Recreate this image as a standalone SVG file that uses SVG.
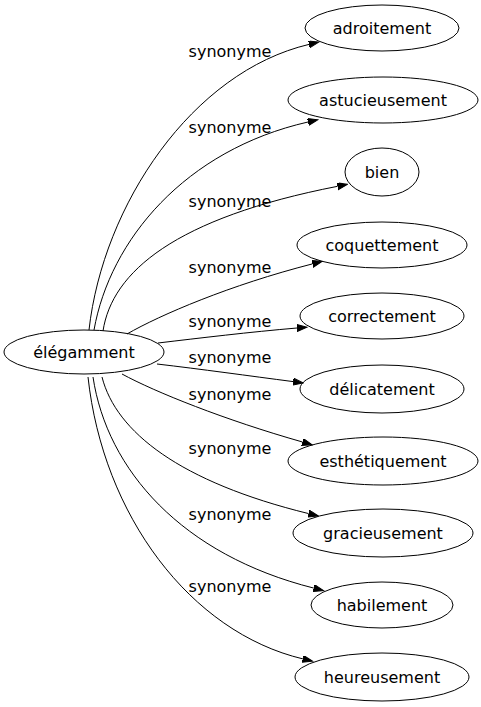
<svg xmlns="http://www.w3.org/2000/svg" width="481" height="707" viewBox="0 0 481 707">
<defs>
<style>
.node ellipse{fill:none;stroke:#000;stroke-width:1}
.node text,.lbl{font-family:"DejaVu Sans",sans-serif;font-size:16px;fill:#000;text-anchor:middle}
.edge{fill:none;stroke:#000;stroke-width:1;marker-end:url(#arr)}
</style>
<marker id="arr" markerUnits="userSpaceOnUse" markerWidth="11" markerHeight="8" refX="0" refY="3.5" orient="auto" viewBox="0 0 11 8">
<path d="M0,0 L10,3.5 L0,7 Z" fill="#000" stroke="#000" stroke-width="1"/>
</marker>
</defs>
<rect width="481" height="707" fill="#fff"/>
<g id="connectors">
<path class="edge" d="M89,330 C103,205 192,72 309,44.4"/>
<path class="edge" d="M94,330 C110,240 185,150 308,122"/>
<path class="edge" d="M103,331 C112,272 175,218 337.6,186.3"/>
<path class="edge" d="M127,334 C160,315 230,285 312.4,263.9"/>
<path class="edge" d="M158,343 C200,338 250,332 297,328"/>
<path class="edge" d="M157,364 C200,369 250,376 293.2,381.6"/>
<path class="edge" d="M122,374 C155,392 225,420 302.5,442"/>
<path class="edge" d="M102,377 C116,432 180,482 308.6,513.6"/>
<path class="edge" d="M93,377 C107,470 182,555 313.8,588.1"/>
<path class="edge" d="M88,377 C103,515 190,632 302.9,658.9"/>
</g>
<g id="labels">
<text class="lbl" x="230" y="57">synonyme</text>
<text class="lbl" x="230" y="133">synonyme</text>
<text class="lbl" x="230" y="207">synonyme</text>
<text class="lbl" x="230" y="273">synonyme</text>
<text class="lbl" x="230" y="327">synonyme</text>
<text class="lbl" x="230" y="362.5">synonyme</text>
<text class="lbl" x="230" y="400">synonyme</text>
<text class="lbl" x="230" y="453.5">synonyme</text>
<text class="lbl" x="230" y="520">synonyme</text>
<text class="lbl" x="230" y="592">synonyme</text>
</g>
<g id="n-elegamment" class="node"><ellipse cx="84" cy="352" rx="80" ry="22"/><text x="84" y="358">élégamment</text></g>
<g id="n-adroitement" class="node"><ellipse cx="382" cy="28" rx="77" ry="23"/><text x="382" y="34">adroitement</text></g>
<g id="n-astucieusement" class="node"><ellipse cx="383" cy="100" rx="95" ry="23"/><text x="383" y="106">astucieusement</text></g>
<g id="n-bien" class="node"><ellipse cx="382" cy="172" rx="37" ry="24"/><text x="382" y="178">bien</text></g>
<g id="n-coquettement" class="node"><ellipse cx="382" cy="245" rx="85" ry="23"/><text x="382" y="251">coquettement</text></g>
<g id="n-correctement" class="node"><ellipse cx="382" cy="316" rx="82" ry="23"/><text x="382" y="322">correctement</text></g>
<g id="n-delicatement" class="node"><ellipse cx="382" cy="389" rx="82" ry="24"/><text x="382" y="395">délicatement</text></g>
<g id="n-esthetiquement" class="node"><ellipse cx="383" cy="461" rx="95" ry="24"/><text x="383" y="467">esthétiquement</text></g>
<g id="n-gracieusement" class="node"><ellipse cx="383" cy="533" rx="90" ry="24"/><text x="383" y="539">gracieusement</text></g>
<g id="n-habilement" class="node"><ellipse cx="382" cy="605" rx="71" ry="23"/><text x="382" y="611">habilement</text></g>
<g id="n-heureusement" class="node"><ellipse cx="382" cy="677" rx="87" ry="24"/><text x="382" y="683">heureusement</text></g>
</svg>
